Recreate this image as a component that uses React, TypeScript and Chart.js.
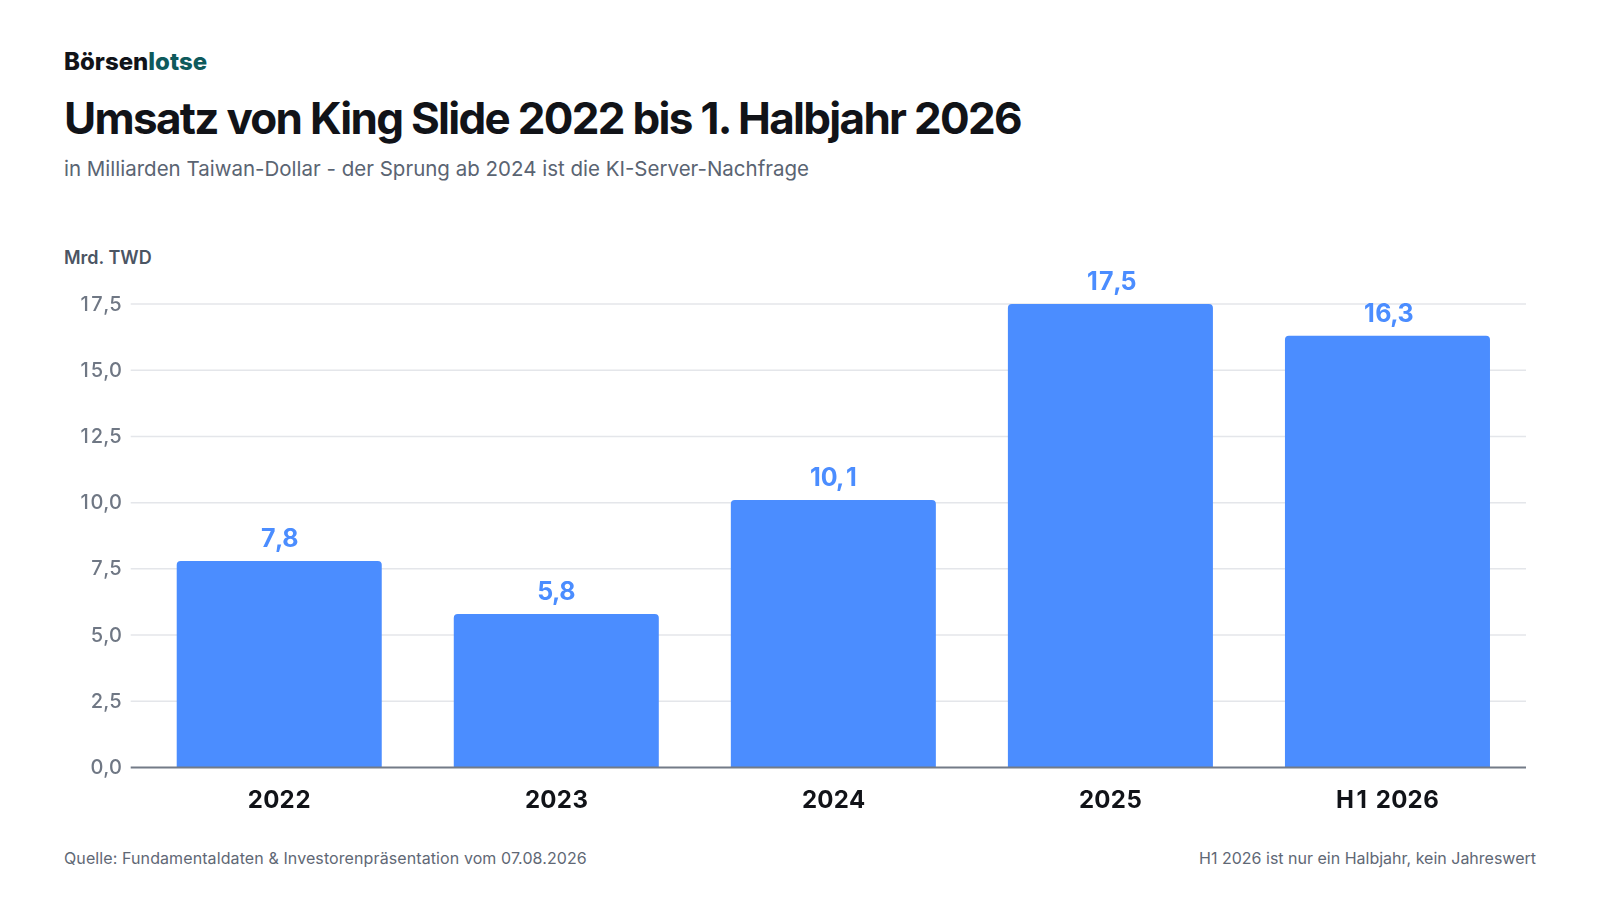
import React, { useEffect, useRef } from "react";
import { Chart, registerables } from "chart.js";

Chart.register(...registerables);

const categories = ["2022", "2023", "2024", "2025", "H1 2026"];
const revenue = [7.8, 5.8, 10.1, 17.5, 16.3];
const yMin = 0;
const yMax = 17.5;
const yStep = 2.5;

const FONT = "Inter, 'Noto Sans', sans-serif";
const BAR = "#4B8DFF";
const GRID_LEFT = 130.7;

const fmt = (v: number) => v.toFixed(1).replace(".", ",");

// draws text with tabular (fixed-width) digits
const drawTabular = (ctx: any, text: string, x: number, y: number, cell: number, align: "center" | "right") => {
  const chars = text.split("");
  const widths = chars.map((ch) => (/[0-9]/.test(ch) ? cell : ctx.measureText(ch).width));
  const total = widths.reduce((a, b) => a + b, 0);
  let cx = align === "center" ? x - total / 2 : x - total;
  chars.forEach((ch, i) => {
    if (/[0-9]/.test(ch)) {
      ctx.textAlign = "center";
      ctx.fillText(ch, cx + cell / 2, y);
    } else {
      ctx.textAlign = "left";
      ctx.fillText(ch, cx, y);
    }
    cx += widths[i];
  });
};

const customAxes = {
  id: "customAxes",
  beforeDatasetsDraw(chart: any) {
    const ctx = chart.ctx;
    const { chartArea } = chart;
    const y = chart.scales.y;
    const x = chart.scales.x;
    ctx.save();
    ctx.strokeStyle = "#E4E6EA";
    ctx.lineWidth = 1.5;
    y.ticks.forEach((t: any) => {
      if (t.value === yMin) return;
      const py = y.getPixelForValue(t.value);
      ctx.beginPath();
      ctx.moveTo(GRID_LEFT, py);
      ctx.lineTo(chartArea.right, py);
      ctx.stroke();
    });
    ctx.fillStyle = "#6F7784";
    ctx.font = `500 20px ${FONT}`;
    ctx.textBaseline = "middle";
    y.ticks.forEach((t: any) => {
      const py = y.getPixelForValue(t.value);
      drawTabular(ctx, fmt(t.value), GRID_LEFT - 9, py + 0.5, 12.4, "right");
    });
    ctx.fillStyle = "#111318";
    ctx.font = `700 24px ${FONT}`;
    categories.forEach((c, i) => {
      const px = x.getPixelForValue(i);
      drawTabular(ctx, c, px, chartArea.bottom + 33, 15.9, "center");
    });
    ctx.restore();
  },
  afterDatasetsDraw(chart: any) {
    const ctx = chart.ctx;
    const { chartArea } = chart;
    const meta = chart.getDatasetMeta(0);
    ctx.save();
    ctx.strokeStyle = "#737B87";
    ctx.lineWidth = 2;
    ctx.beginPath();
    ctx.moveTo(GRID_LEFT, chartArea.bottom);
    ctx.lineTo(chartArea.right, chartArea.bottom);
    ctx.stroke();
    ctx.font = `700 25px ${FONT}`;
    ctx.fillStyle = BAR;
    ctx.textBaseline = "middle";
    meta.data.forEach((bar: any, i: number) => {
      drawTabular(ctx, fmt(revenue[i]), bar.x, bar.y - 21.5, 13.8, "center");
    });
    ctx.restore();
  },
};

export default function App() {
  const ref = useRef<HTMLCanvasElement | null>(null);

  useEffect(() => {
    if (!ref.current) return;
    const chart = new Chart(ref.current, {
      type: "bar",
      data: {
        labels: categories,
        datasets: [
          {
            data: revenue,
            backgroundColor: BAR,
            borderRadius: { topLeft: 4, topRight: 4, bottomLeft: 0, bottomRight: 0 },
            borderSkipped: "bottom",
            barPercentage: 0.74,
            categoryPercentage: 1,
          },
        ],
      },
      options: {
        responsive: false,
        animation: false,
        maintainAspectRatio: false,
        layout: { padding: { top: 104, right: 74, bottom: 0, left: 0 } },
        plugins: {
          legend: { display: false },
          tooltip: { enabled: false },
          title: { display: false },
        },
        scales: {
          x: {
            grid: { display: false, drawTicks: false },
            border: { display: false },
            ticks: { display: false },
            afterFit(scale: any) {
              scale.height = 72.5;
            },
          },
          y: {
            min: yMin,
            max: yMax,
            grid: { display: false, drawTicks: false },
            border: { display: false },
            ticks: { display: false, stepSize: yStep },
            afterFit(scale: any) {
              scale.width = 140.7;
            },
          },
        },
      },
      plugins: [customAxes],
    });
    return () => chart.destroy();
  }, []);

  const base: React.CSSProperties = {
    position: "absolute",
    left: 64,
    margin: 0,
    whiteSpace: "nowrap",
    fontFamily: FONT,
  };

  return (
    <div
      style={{
        position: "fixed",
        left: 0,
        top: 0,
        width: 1600,
        height: 900,
        background: "#ffffff",
        overflow: "hidden",
      }}
    >
      <div style={{ ...base, top: 50, fontSize: 24, lineHeight: "24px", fontWeight: 800, color: "#111318", letterSpacing: 0 }}>
        Börsen<span style={{ color: "#0E5A5C" }}>lotse</span>
      </div>
      <div style={{ ...base, top: 96, fontSize: 44, lineHeight: "44px", fontWeight: 700, color: "#111318", letterSpacing: -1.7 }}>
        Umsatz von King Slide 2022 bis 1. Halbjahr 2026
      </div>
      <div style={{ ...base, top: 158, fontSize: 20.5, lineHeight: "21px", color: "#5A6472" }}>
        in Milliarden Taiwan-Dollar - der Sprung ab 2024 ist die KI-Server-Nachfrage
      </div>
      <div style={{ ...base, top: 248.5, fontSize: 18, lineHeight: "18px", fontWeight: 600, color: "#4B5563" }}>
        Mrd. TWD
      </div>
      <canvas
        ref={ref}
        width={1600}
        height={640}
        style={{ position: "absolute", left: 0, top: 200, width: 1600, height: 640 }}
      />
      <div style={{ ...base, top: 849.5, fontSize: 16, lineHeight: "16px", color: "#5F6875", letterSpacing: 0.1 }}>
        Quelle: Fundamentaldaten &amp; Investorenpräsentation vom 07.08.2026
      </div>
      <div style={{ ...base, left: "auto", right: 64, top: 849.5, fontSize: 16, lineHeight: "16px", color: "#5F6875" }}>
        H1 2026 ist nur ein Halbjahr, kein Jahreswert
      </div>
    </div>
  );
}
